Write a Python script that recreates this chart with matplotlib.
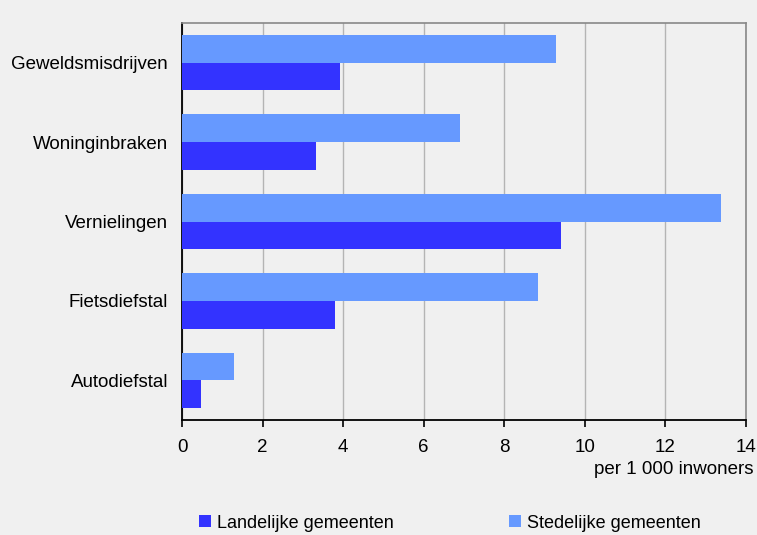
import matplotlib
matplotlib.use("Agg")
import matplotlib.pyplot as plt
import numpy as np

plt.rcParams['font.family'] = ['Liberation Sans', 'DejaVu Sans']

categories = ["Geweldsmisdrijven", "Woninginbraken", "Vernielingen", "Fietsdiefstal", "Autodiefstal"]
landelijk = [3.93, 3.32, 9.41, 3.81, 0.47]
stedelijk = [9.28, 6.90, 13.37, 8.84, 1.29]
series_names = ["Landelijke gemeenten", "Stedelijke gemeenten"]
xticks = [0, 2, 4, 6, 8, 10, 12, 14]
xlabel = "per 1 000 inwoners"

bg = "#f0f0f0"
c_land = "#3333ff"
c_sted = "#6699ff"

fig = plt.figure(figsize=(7.57, 5.35), dpi=100, facecolor=bg)
ax = fig.add_axes([182/757, 1-420/535, (746-182)/757, (420-23)/535])
ax.set_facecolor(bg)

y = np.arange(len(categories))
h = 0.35
b_land = ax.barh(y + h/2, landelijk, height=h, color=c_land, label=series_names[0], zorder=3)
b_sted = ax.barh(y - h/2, stedelijk, height=h, color=c_sted, label=series_names[1], zorder=3)

ax.set_ylim(len(categories) - 0.5, -0.5)
ax.set_xlim(0, 14)
ax.set_xticks(xticks)
ax.set_xticklabels([str(t) for t in xticks], fontsize=13.5)
ax.set_yticks(y)
ax.set_yticklabels(categories, fontsize=13.5)
ax.tick_params(axis='y', length=0, pad=10)
ax.tick_params(axis='x', length=5, width=1.2, direction='out', pad=9, color='black')

ax.grid(axis='x', color='#b4b4b4', linewidth=1.0, zorder=0)
ax.set_axisbelow(True)

for s in ['top', 'right']:
    ax.spines[s].set_color('#888888')
    ax.spines[s].set_linewidth(1.2)
for s in ['left', 'bottom']:
    ax.spines[s].set_color('black')
    ax.spines[s].set_linewidth(1.3)

fig.text(754/757, 1-469/535, xlabel, ha='right', va='center', fontsize=13.5)

leg = fig.legend(handles=[b_land, b_sted], labels=series_names, loc='center left',
                 bbox_to_anchor=(199/757, 1-523/535), ncol=2, frameon=False,
                 fontsize=13, handlelength=0.66, handleheight=0.66,
                 handletextpad=0.33, columnspacing=6.37, borderpad=0, borderaxespad=0)

fig.savefig("out.png", dpi=100, facecolor=bg)
